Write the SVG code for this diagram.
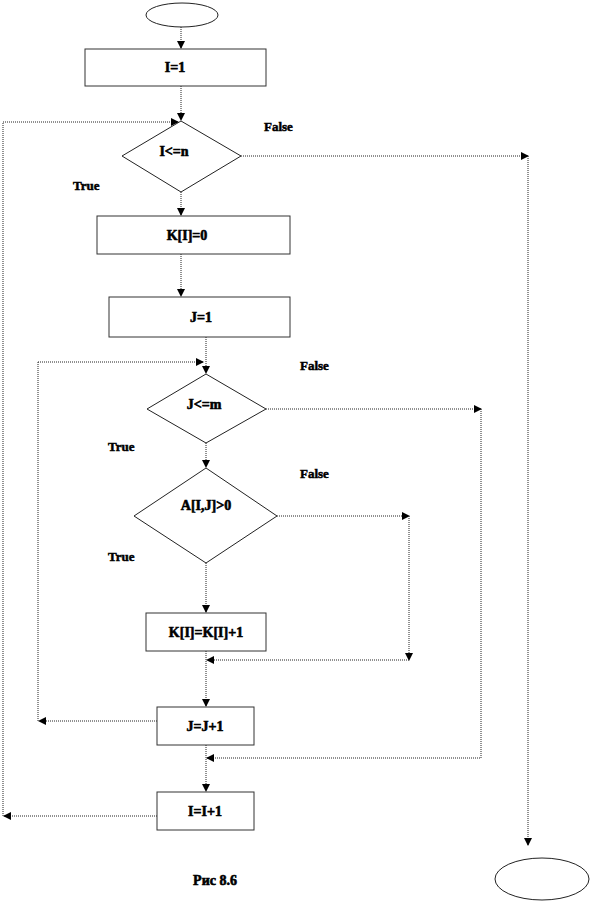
<svg xmlns="http://www.w3.org/2000/svg" width="591" height="903" viewBox="0 0 591 903">
<style>
.bx{fill:#fff;stroke:#333;stroke-width:1}
.dm{fill:#fff;stroke:#222;stroke-width:1}
.t{font-family:"Liberation Serif",serif;font-weight:bold;font-size:14px;fill:#000;stroke:#000;stroke-width:0.6;text-anchor:middle}
.l{font-family:"Liberation Serif",serif;font-weight:bold;font-size:13px;fill:#000;stroke:#000;stroke-width:0.5}
.c{fill:none;stroke:#222;stroke-width:1;stroke-dasharray:1,1}
</style>
<defs>
<marker id="a" markerWidth="8" markerHeight="8" refX="7" refY="4" orient="auto" markerUnits="userSpaceOnUse">
<path d="M0,0 L8,4 L0,8 Z" fill="#000"/>
</marker>
</defs>
<g id="connectors">
<path class="c" d="M181,27 V48" marker-end="url(#a)"/>
<path class="c" d="M181,86 V120" marker-end="url(#a)"/>
<path class="c" d="M3,122 H178" marker-end="url(#a)"/>
<path class="c" d="M241,156 H528" marker-end="url(#a)"/>
<path class="c" d="M528,156 V845" marker-end="url(#a)"/>
<path class="c" d="M181,192 V215" marker-end="url(#a)"/>
<path class="c" d="M181,254 V296" marker-end="url(#a)"/>
<path class="c" d="M206,337 V373" marker-end="url(#a)"/>
<path class="c" d="M38,362 H203" marker-end="url(#a)"/>
<path class="c" d="M266,409 H481" marker-end="url(#a)"/>
<path class="c" d="M481,409 V758 H207" marker-end="url(#a)"/>
<path class="c" d="M206,443 V467" marker-end="url(#a)"/>
<path class="c" d="M277,516 H409" marker-end="url(#a)"/>
<path class="c" d="M409,516 V660" marker-end="url(#a)"/>
<path class="c" d="M409,660 H207" marker-end="url(#a)"/>
<path class="c" d="M206,563 V612" marker-end="url(#a)"/>
<path class="c" d="M206,651 V706" marker-end="url(#a)"/>
<path class="c" d="M157,721 H39" marker-end="url(#a)"/>
<path class="c" d="M38,721 V362"/>
<path class="c" d="M206,745 V791" marker-end="url(#a)"/>
<path class="c" d="M157,816 H4" marker-end="url(#a)"/>
<path class="c" d="M3,816 V122"/>
</g>
<g id="start"><ellipse class="dm" cx="182" cy="15" rx="36" ry="12"/></g>
<g id="i1"><rect class="bx" x="85" y="49" width="181" height="37"/><text class="t" x="175" y="72">I=1</text></g>
<g id="cond_i"><polygon class="dm" points="181,121 241,156 181,192 122,156"/><text class="t" x="174" y="156">I&lt;=n</text></g>
<g id="k0"><rect class="bx" x="97" y="216" width="193" height="38"/><text class="t" x="187" y="240">K[I]=0</text></g>
<g id="j1"><rect class="bx" x="109" y="297" width="181" height="40"/><text class="t" x="201" y="322">J=1</text></g>
<g id="cond_j"><polygon class="dm" points="206,374 266,409 206,443 147,409"/><text class="t" x="204" y="409">J&lt;=m</text></g>
<g id="cond_a"><polygon class="dm" points="206,468 277,516 206,563 134,516"/><text class="t" x="206" y="510">A[I,J]&gt;0</text></g>
<g id="kinc"><rect class="bx" x="146" y="613" width="120" height="38"/><text class="t" x="206" y="637">K[I]=K[I]+1</text></g>
<g id="jinc"><rect class="bx" x="157" y="707" width="97" height="38"/><text class="t" x="205" y="731">J=J+1</text></g>
<g id="iinc"><rect class="bx" x="157" y="792" width="97" height="38"/><text class="t" x="205" y="816">I=I+1</text></g>
<g id="end"><ellipse class="dm" cx="542" cy="879" rx="47" ry="21"/></g>
<g id="labels">
<text class="l" x="264" y="131">False</text>
<text class="l" x="73" y="190">True</text>
<text class="l" x="300" y="370">False</text>
<text class="l" x="108" y="451">True</text>
<text class="l" x="300" y="478">False</text>
<text class="l" x="108" y="561">True</text>
<text class="t" x="215" y="885">Рис 8.6</text>
</g>
</svg>
